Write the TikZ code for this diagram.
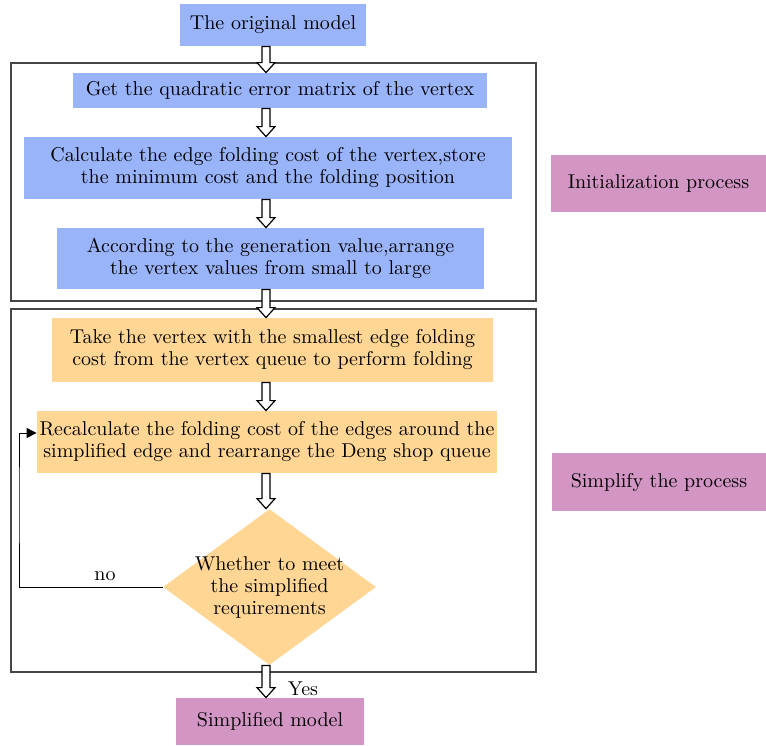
\documentclass[tikz,border=0pt]{standalone}
\usetikzlibrary{shapes.geometric,calc,arrows.meta}
\definecolor{boxblue}{RGB}{154,180,250}
\definecolor{boxorange}{RGB}{255,214,148}
\definecolor{boxpink}{RGB}{211,150,196}
\definecolor{framegray}{RGB}{70,70,70}

% hollow block arrow from one node down to the next
\newcommand{\hollowarrow}[2]{%
  \draw[fill=white,line width=0.6pt,line join=miter]
    let \p1=(#1.south -| col), \p2=(#2.north -| col) in
    (\x1-2pt,\y1) -- (\x1-2pt,\y2+5pt) -- (\x1-4.5pt,\y2+5pt) -- (\x1,\y2)
    -- (\x1+4.5pt,\y2+5pt) -- (\x1+2pt,\y2+5pt) -- (\x1+2pt,\y1) -- cycle;
}

\begin{document}
\begin{tikzpicture}[x=0.5pt,y=-0.5pt,font=\fontsize{10}{11}\selectfont,
    box/.style={inner sep=0pt,align=center},
    frame/.style={draw=framegray,line width=0.6pt}]
\useasboundingbox (0,0) rectangle (766,745);
\coordinate (col) at (266,0);
% frames
\draw[frame] (11,63) rectangle (536,301);
\draw[frame] (11,309) rectangle (536,672);
% initialization
\node[box,fill=boxblue,minimum width=93pt,minimum height=21pt] (orig) at (273,25) {The original model};
\node[box,fill=boxblue,minimum width=207pt,minimum height=17.5pt] (quad) at (280,90.5) {Get the quadratic error matrix of the vertex};
\node[box,fill=boxblue,minimum width=244pt,minimum height=31pt] (calc) at (268,168) {Calculate the edge folding cost of the vertex,store\\the minimum cost and the folding position};
\node[box,fill=boxblue,minimum width=213.5pt,minimum height=30.5pt] (acc) at (270.5,258.5) {According to the generation value,arrange\\the vertex values from small to large};
% simplification
\node[box,fill=boxorange,minimum width=220.5pt,minimum height=32pt] (take) at (272.5,350) {Take the vertex with the smallest edge folding\\cost from the vertex queue to perform folding};
\node[box,fill=boxorange,minimum width=230pt,minimum height=31pt] (recalc) at (267,442) {Recalculate the folding cost of the edges around the\\simplified edge and rearrange the Deng shop queue};
\node[diamond,fill=boxorange,align=center,inner sep=-6pt,aspect=1.4,minimum width=106.5pt,minimum height=78pt] (cond) at (269.5,587) {Whether to meet\\the simplified\\requirements};
\node[box,fill=boxpink,minimum width=94pt,minimum height=23.5pt] (simp) at (270,721.5) {Simplified model};
% side labels
\node[box,fill=boxpink,minimum width=107.5pt,minimum height=28.5pt] (init) at (658.5,183.5) {Initialization process};
\node[box,fill=boxpink,minimum width=107pt,minimum height=29pt] (simpproc) at (659,482) {Simplify the process};
% arrows
\foreach \a/\b in {orig/quad,quad/calc,calc/acc,acc/take,take/recalc,recalc/cond,cond/simp}
    \hollowarrow{\a}{\b};
\coordinate (loop) at (19,500);
\draw[line width=0.5pt,-{Triangle[length=5pt,width=5pt]}] (cond.west) -| (loop) |- ([yshift=4.5pt]recalc.west);
\node (no) at (105,576) {no};
\node (yes) at (303,689) {Yes};
\end{tikzpicture}
\end{document}
